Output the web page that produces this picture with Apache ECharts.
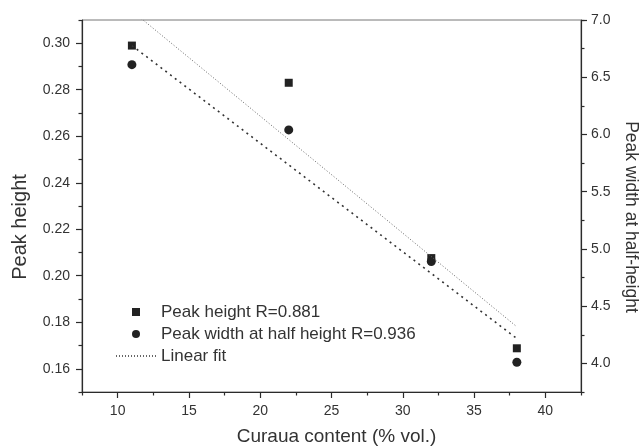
<!DOCTYPE html>
<html>
<head>
<meta charset="utf-8">
<script src="https://cdn.jsdelivr.net/npm/echarts@6/dist/echarts.min.js"></script>
<style>
  html, body { margin: 0; padding: 0; background: #fff; }
  #chart { width: 639px; height: 446px; }
</style>
</head>
<body>
<div id="chart"></div>
<script>
// curaua content, % vol.
const content = [11, 22, 32, 38];
const peakHeight = [0.299, 0.283, 0.2076, 0.1688];
const peakWidth = [6.61, 6.04, 4.89, 4.01];

// fitted lines at both ends
const fitX = [11, 38];
const heightFit = [0.299, 0.173];
const widthFit = [7.08, 4.32];

const contentTicks = [10, 15, 20, 25, 30, 35, 40];
const heightTicks = [0.16, 0.18, 0.20, 0.22, 0.24, 0.26, 0.28, 0.30];
const widthTicks = [4.0, 4.5, 5.0, 5.5, 6.0, 6.5, 7.0];

const FONT = '"Liberation Sans", Arial, sans-serif';
const INK = '#2b2b2b';

const chart = echarts.init(document.getElementById('chart'));

const majorAxis = {
    axisLine: { show: true, onZero: false, lineStyle: { color: INK, width: 1.2 } },
    axisTick: { show: true, inside: false, length: 6, lineStyle: { color: INK, width: 1.2 } },
    splitLine: { show: false },
    axisLabel: { color: '#333', fontFamily: FONT, fontSize: 14 },
    nameTextStyle: { color: '#333', fontFamily: FONT, fontSize: 16 }
};
const minorAxis = {
    axisLine: { show: false, onZero: false },
    axisTick: { show: true, inside: false, length: 3.5, lineStyle: { color: INK, width: 1.2 } },
    axisLabel: { show: false },
    splitLine: { show: false }
};

const option = {
    animation: false,
    backgroundColor: '#fff',
    grid: {
        left: 82, right: 58, top: 20, bottom: 54,
        outerBoundsMode: 'none',
        containLabel: false,
        show: true, borderColor: '#777', borderWidth: 1, backgroundColor: 'transparent'
    },
    legend: {
        left: 110,
        top: 298,
        orient: 'vertical',
        itemWidth: 40,
        itemHeight: 8,
        itemGap: 4,
        textStyle: { color: '#333', fontFamily: FONT, fontSize: 17, lineHeight: 18 },
        data: [
            { name: 'Peak height R=0.881', icon: 'path://M0,0h10v10h-10z' },
            { name: 'Peak width at half height R=0.936', icon: 'circle' },
            { name: 'Linear fit', itemStyle: { opacity: 0 } }
        ]
    },
    xAxis: [
        {
            ...majorAxis,
            type: 'value',
            position: 'bottom',
            min: 7.5,
            max: 42.5,
            name: 'Curaua content (% vol.)',
            nameLocation: 'middle',
            nameGap: 35,
            nameTextStyle: { ...majorAxis.nameTextStyle, fontSize: 19, padding: [0, 0, 0, 10] },
            axisTick: { ...majorAxis.axisTick, customValues: contentTicks },
            axisLabel: { ...majorAxis.axisLabel, margin: 12, customValues: contentTicks }
        },
        {
            ...minorAxis,
            type: 'value',
            position: 'bottom',
            min: 7.5,
            max: 42.5,
            interval: 5
        }
    ],
    yAxis: [
        {
            ...majorAxis,
            type: 'value',
            position: 'left',
            min: 0.15,
            max: 0.31,
            name: 'Peak height',
            nameLocation: 'middle',
            nameGap: 52,
            nameTextStyle: { ...majorAxis.nameTextStyle, fontSize: 20, padding: [0, 42, 0, 0] },
            axisTick: { ...majorAxis.axisTick, customValues: heightTicks },
            axisLabel: {
                ...majorAxis.axisLabel, margin: 12, customValues: heightTicks,
                formatter: v => v.toFixed(2)
            }
        },
        {
            ...majorAxis,
            type: 'value',
            position: 'right',
            min: 3.75,
            max: 7.0,
            name: 'Peak width at half-height',
            nameLocation: 'middle',
            nameGap: 36,
            nameRotate: -90,
            nameTextStyle: { ...majorAxis.nameTextStyle, fontSize: 17.5, padding: [0, 0, 0, 22] },
            axisTick: { ...majorAxis.axisTick, customValues: widthTicks },
            axisLabel: {
                ...majorAxis.axisLabel, margin: 10, customValues: widthTicks,
                formatter: v => v.toFixed(1)
            }
        },
        {
            ...minorAxis,
            type: 'value',
            position: 'left',
            min: 0.15,
            max: 0.31,
            interval: 0.02
        },
        {
            ...minorAxis,
            type: 'value',
            position: 'right',
            min: 3.75,
            max: 7.0,
            interval: 0.5
        }
    ],
    series: [
        {
            name: 'Peak height fit',
            type: 'line',
            xAxisIndex: 0,
            yAxisIndex: 0,
            symbol: 'none',
            clip: true,
            lineStyle: { color: '#333', width: 1.6, type: [2, 4] },
            data: fitX.map((x, i) => [x, heightFit[i]])
        },
        {
            name: 'Linear fit',
            type: 'line',
            xAxisIndex: 0,
            yAxisIndex: 1,
            symbol: 'none',
            clip: true,
            itemStyle: { color: '#666' },
            lineStyle: { color: '#666', width: 1, type: [1, 2] },
            data: fitX.map((x, i) => [x, widthFit[i]])
        },
        {
            name: 'Peak height R=0.881',
            type: 'scatter',
            xAxisIndex: 0,
            yAxisIndex: 0,
            symbol: 'rect',
            symbolSize: 8,
            itemStyle: { color: '#222', opacity: 1 },
            data: content.map((x, i) => [x, peakHeight[i]])
        },
        {
            name: 'Peak width at half height R=0.936',
            type: 'scatter',
            xAxisIndex: 0,
            yAxisIndex: 1,
            symbol: 'circle',
            symbolSize: 9,
            itemStyle: { color: '#222', opacity: 1 },
            data: content.map((x, i) => [x, peakWidth[i]])
        }
    ]
};

chart.setOption(option);
</script>
</body>
</html>
